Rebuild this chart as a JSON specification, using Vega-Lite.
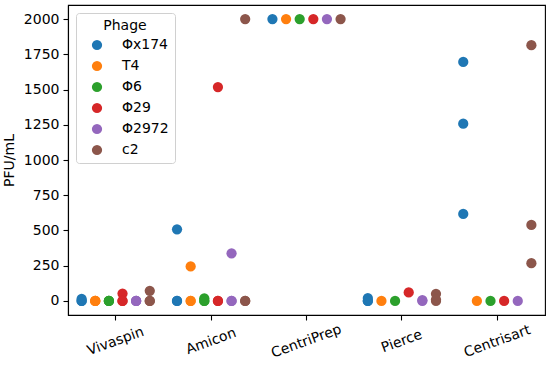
{
  "$schema": "https://vega.github.io/schema/vega-lite/v6.json",
  "autosize": {"type": "none"},
  "width": 477,
  "height": 310,
  "padding": {"left": 68, "top": 5, "right": 5, "bottom": 50},
  "background": "white",
  "config": {
    "font": "DejaVu Sans",
    "view": {"stroke": "black", "strokeWidth": 1.1},
    "axis": {"grid": false, "domainColor": "black", "domainWidth": 1.1, "tickColor": "black", "tickWidth": 1.1, "tickSize": 5, "labelFontSize": 14, "labelColor": "black", "titleFontSize": 14, "titleFontWeight": "normal", "titleColor": "black", "labelFont": "DejaVu Sans", "titleFont": "DejaVu Sans"}
  },
  "data": {
    "values": [
      {"device": "Vivaspin", "phage": "Φx174", "pfu": 0},
      {"device": "Vivaspin", "phage": "Φx174", "pfu": 0},
      {"device": "Vivaspin", "phage": "Φx174", "pfu": 15},
      {"device": "Vivaspin", "phage": "T4", "pfu": 0},
      {"device": "Vivaspin", "phage": "T4", "pfu": 0},
      {"device": "Vivaspin", "phage": "T4", "pfu": 0},
      {"device": "Vivaspin", "phage": "Φ6", "pfu": 0},
      {"device": "Vivaspin", "phage": "Φ6", "pfu": 0},
      {"device": "Vivaspin", "phage": "Φ6", "pfu": 0},
      {"device": "Vivaspin", "phage": "Φ29", "pfu": 52},
      {"device": "Vivaspin", "phage": "Φ29", "pfu": 0},
      {"device": "Vivaspin", "phage": "Φ29", "pfu": 0},
      {"device": "Vivaspin", "phage": "Φ2972", "pfu": 0},
      {"device": "Vivaspin", "phage": "Φ2972", "pfu": 0},
      {"device": "Vivaspin", "phage": "Φ2972", "pfu": 0},
      {"device": "Vivaspin", "phage": "c2", "pfu": 72},
      {"device": "Vivaspin", "phage": "c2", "pfu": 0},
      {"device": "Vivaspin", "phage": "c2", "pfu": 0},
      {"device": "Amicon", "phage": "Φx174", "pfu": 508},
      {"device": "Amicon", "phage": "Φx174", "pfu": 0},
      {"device": "Amicon", "phage": "Φx174", "pfu": 0},
      {"device": "Amicon", "phage": "T4", "pfu": 245},
      {"device": "Amicon", "phage": "T4", "pfu": 0},
      {"device": "Amicon", "phage": "T4", "pfu": 0},
      {"device": "Amicon", "phage": "Φ6", "pfu": 18},
      {"device": "Amicon", "phage": "Φ6", "pfu": 0},
      {"device": "Amicon", "phage": "Φ6", "pfu": 0},
      {"device": "Amicon", "phage": "Φ29", "pfu": 1518},
      {"device": "Amicon", "phage": "Φ29", "pfu": 0},
      {"device": "Amicon", "phage": "Φ29", "pfu": 0},
      {"device": "Amicon", "phage": "Φ2972", "pfu": 338},
      {"device": "Amicon", "phage": "Φ2972", "pfu": 0},
      {"device": "Amicon", "phage": "Φ2972", "pfu": 0},
      {"device": "Amicon", "phage": "c2", "pfu": 2000},
      {"device": "Amicon", "phage": "c2", "pfu": 0},
      {"device": "Amicon", "phage": "c2", "pfu": 0},
      {"device": "CentriPrep", "phage": "Φx174", "pfu": 2000},
      {"device": "CentriPrep", "phage": "T4", "pfu": 2000},
      {"device": "CentriPrep", "phage": "Φ6", "pfu": 2000},
      {"device": "CentriPrep", "phage": "Φ29", "pfu": 2000},
      {"device": "CentriPrep", "phage": "Φ2972", "pfu": 2000},
      {"device": "CentriPrep", "phage": "c2", "pfu": 2000},
      {"device": "Pierce", "phage": "Φx174", "pfu": 20},
      {"device": "Pierce", "phage": "Φx174", "pfu": 0},
      {"device": "Pierce", "phage": "Φx174", "pfu": 0},
      {"device": "Pierce", "phage": "T4", "pfu": 0},
      {"device": "Pierce", "phage": "Φ6", "pfu": 0},
      {"device": "Pierce", "phage": "Φ29", "pfu": 60},
      {"device": "Pierce", "phage": "Φ2972", "pfu": 0},
      {"device": "Pierce", "phage": "Φ2972", "pfu": 5},
      {"device": "Pierce", "phage": "c2", "pfu": 50},
      {"device": "Pierce", "phage": "c2", "pfu": 0},
      {"device": "Pierce", "phage": "c2", "pfu": 10},
      {"device": "Centrisart", "phage": "Φx174", "pfu": 1696},
      {"device": "Centrisart", "phage": "Φx174", "pfu": 1258},
      {"device": "Centrisart", "phage": "Φx174", "pfu": 617},
      {"device": "Centrisart", "phage": "T4", "pfu": 0},
      {"device": "Centrisart", "phage": "Φ6", "pfu": 0},
      {"device": "Centrisart", "phage": "Φ29", "pfu": 0},
      {"device": "Centrisart", "phage": "Φ2972", "pfu": 0},
      {"device": "Centrisart", "phage": "c2", "pfu": 1815},
      {"device": "Centrisart", "phage": "c2", "pfu": 539},
      {"device": "Centrisart", "phage": "c2", "pfu": 268}
    ]
  },
  "mark": {"type": "circle", "size": 105, "opacity": 1},
  "encoding": {
    "x": {
      "field": "device", "type": "nominal",
      "sort": ["Vivaspin", "Amicon", "CentriPrep", "Pierce", "Centrisart"],
      "scale": {"paddingInner": 0, "paddingOuter": 0},
      "axis": {"title": null, "labelAngle": -20, "labelAlign": "center", "labelBaseline": "middle", "labelPadding": 21}
    },
    "xOffset": {
      "field": "phage", "type": "nominal",
      "sort": ["Φx174", "T4", "Φ6", "Φ29", "Φ2972", "c2"],
      "scale": {"type": "point", "padding": 1.25}
    },
    "y": {
      "field": "pfu", "type": "quantitative",
      "scale": {"domain": [-100, 2100], "nice": false, "zero": false},
      "axis": {"title": "PFU/mL", "format": "d", "values": [0, 250, 500, 750, 1000, 1250, 1500, 1750, 2000], "titlePadding": 7, "labelPadding": 4}
    },
    "color": {
      "field": "phage", "type": "nominal",
      "sort": ["Φx174", "T4", "Φ6", "Φ29", "Φ2972", "c2"],
      "scale": {"domain": ["Φx174", "T4", "Φ6", "Φ29", "Φ2972", "c2"], "range": ["#1f77b4", "#ff7f0e", "#2ca02c", "#d62728", "#9467bd", "#8c564b"]},
      "legend": {
        "title": "Phage", "orient": "none", "legendX": 8, "legendY": 8,
        "symbolType": "circle", "symbolSize": 105, "symbolOpacity": 1,
        "padding": 6, "symbolOffset": 8, "labelOffset": 18, "rowPadding": 7, "titlePadding": 5,
        "labelFontSize": 14, "titleFontSize": 14, "titleFontWeight": "normal",
        "titleAnchor": "middle", "titleAlign": "center", "labelColor": "black", "titleColor": "black",
        "strokeColor": "#d0d0d0", "fillColor": "white", "cornerRadius": 3
      }
    }
  }
}
